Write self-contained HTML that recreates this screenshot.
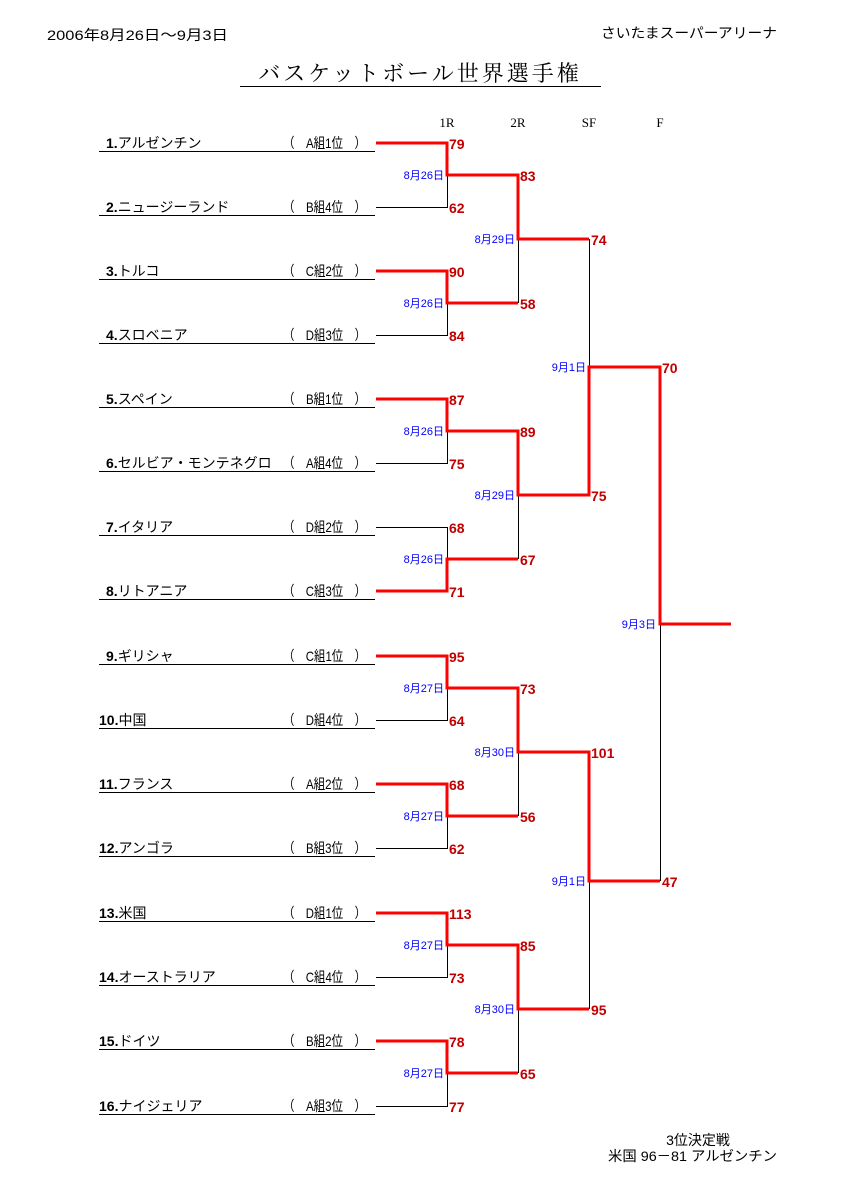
<!DOCTYPE html>
<html><head><meta charset="utf-8"><style>
html,body{margin:0;padding:0;background:#fff;}
svg{display:block;}
.t{font-family:"Liberation Sans","Noto Sans CJK JP",sans-serif;font-size:14px;fill:#000;}
.g{font-family:"Liberation Sans","Noto Sans CJK JP",sans-serif;font-size:14px;fill:#000;}
.s{font-family:"Liberation Sans",sans-serif;font-size:14px;font-weight:bold;fill:#c00000;}
.d{font-family:"Liberation Sans","Noto Sans CJK JP",sans-serif;font-size:11px;fill:#0000ff;text-anchor:end;}
.h{font-family:"Liberation Serif","Noto Serif CJK SC",serif;font-size:13px;fill:#000;}
.hh{font-family:"Liberation Sans","Noto Sans CJK JP",sans-serif;font-size:14px;fill:#000;}
.k{stroke:#000;stroke-width:1;fill:none;}
.r{stroke:#ff0000;stroke-width:3;fill:none;}
</style></head><body>
<svg width="841" height="1190" viewBox="0 0 841 1190" xmlns="http://www.w3.org/2000/svg">
<text class="hh" x="47" y="40" textLength="181" lengthAdjust="spacingAndGlyphs">2006年8月26日～9月3日</text>
<text class="hh" x="601" y="38" textLength="176" lengthAdjust="spacingAndGlyphs">さいたまスーパーアリーナ</text>
<text x="420" y="81" text-anchor="middle" style="font-family:'Noto Serif CJK SC','Liberation Serif',serif;font-size:22px;letter-spacing:3px;fill:#000">バスケットボール世界選手権</text>
<line x1="240" y1="86.5" x2="601" y2="86.5" class="k"/>
<text class="h" x="447" y="127" text-anchor="middle">1R</text>
<text class="h" x="518" y="127" text-anchor="middle">2R</text>
<text class="h" x="589" y="127" text-anchor="middle">SF</text>
<text class="h" x="660" y="127" text-anchor="middle">F</text>

<g class="k">
<line x1="99" y1="151.5" x2="375" y2="151.5"/><line x1="99" y1="215.5" x2="375" y2="215.5"/>
<line x1="99" y1="279.5" x2="375" y2="279.5"/><line x1="99" y1="343.5" x2="375" y2="343.5"/>
<line x1="99" y1="407.5" x2="375" y2="407.5"/><line x1="99" y1="471.5" x2="375" y2="471.5"/>
<line x1="99" y1="535.5" x2="375" y2="535.5"/><line x1="99" y1="599.5" x2="375" y2="599.5"/>
<line x1="99" y1="664.5" x2="375" y2="664.5"/><line x1="99" y1="728.5" x2="375" y2="728.5"/>
<line x1="99" y1="792.5" x2="375" y2="792.5"/><line x1="99" y1="856.5" x2="375" y2="856.5"/>
<line x1="99" y1="921.5" x2="375" y2="921.5"/><line x1="99" y1="985.5" x2="375" y2="985.5"/>
<line x1="99" y1="1049.5" x2="375" y2="1049.5"/><line x1="99" y1="1114.5" x2="375" y2="1114.5"/>
</g>
<g class="t">
<text x="106" y="148"><tspan font-weight="bold">1.</tspan>アルゼンチン</text>
<text x="106" y="212"><tspan font-weight="bold">2.</tspan>ニュージーランド</text>
<text x="106" y="276"><tspan font-weight="bold">3.</tspan>トルコ</text>
<text x="106" y="340"><tspan font-weight="bold">4.</tspan>スロベニア</text>
<text x="106" y="404"><tspan font-weight="bold">5.</tspan>スペイン</text>
<text x="106" y="468"><tspan font-weight="bold">6.</tspan>セルビア・モンテネグロ</text>
<text x="106" y="532"><tspan font-weight="bold">7.</tspan>イタリア</text>
<text x="106" y="596"><tspan font-weight="bold">8.</tspan>リトアニア</text>
<text x="106" y="661"><tspan font-weight="bold">9.</tspan>ギリシャ</text>
<text x="99" y="725"><tspan font-weight="bold">10.</tspan>中国</text>
<text x="99" y="789"><tspan font-weight="bold">11.</tspan>フランス</text>
<text x="99" y="853"><tspan font-weight="bold">12.</tspan>アンゴラ</text>
<text x="99" y="918"><tspan font-weight="bold">13.</tspan>米国</text>
<text x="99" y="982"><tspan font-weight="bold">14.</tspan>オーストラリア</text>
<text x="99" y="1046"><tspan font-weight="bold">15.</tspan>ドイツ</text>
<text x="99" y="1111"><tspan font-weight="bold">16.</tspan>ナイジェリア</text>
</g>
<g class="g">
<text x="283" y="148" textLength="83" lengthAdjust="spacingAndGlyphs">（　A組1位　）</text>
<text x="283" y="212" textLength="83" lengthAdjust="spacingAndGlyphs">（　B組4位　）</text>
<text x="283" y="276" textLength="83" lengthAdjust="spacingAndGlyphs">（　C組2位　）</text>
<text x="283" y="340" textLength="83" lengthAdjust="spacingAndGlyphs">（　D組3位　）</text>
<text x="283" y="404" textLength="83" lengthAdjust="spacingAndGlyphs">（　B組1位　）</text>
<text x="283" y="468" textLength="83" lengthAdjust="spacingAndGlyphs">（　A組4位　）</text>
<text x="283" y="532" textLength="83" lengthAdjust="spacingAndGlyphs">（　D組2位　）</text>
<text x="283" y="596" textLength="83" lengthAdjust="spacingAndGlyphs">（　C組3位　）</text>
<text x="283" y="661" textLength="83" lengthAdjust="spacingAndGlyphs">（　C組1位　）</text>
<text x="283" y="725" textLength="83" lengthAdjust="spacingAndGlyphs">（　D組4位　）</text>
<text x="283" y="789" textLength="83" lengthAdjust="spacingAndGlyphs">（　A組2位　）</text>
<text x="283" y="853" textLength="83" lengthAdjust="spacingAndGlyphs">（　B組3位　）</text>
<text x="283" y="918" textLength="83" lengthAdjust="spacingAndGlyphs">（　D組1位　）</text>
<text x="283" y="982" textLength="83" lengthAdjust="spacingAndGlyphs">（　C組4位　）</text>
<text x="283" y="1046" textLength="83" lengthAdjust="spacingAndGlyphs">（　B組2位　）</text>
<text x="283" y="1111" textLength="83" lengthAdjust="spacingAndGlyphs">（　A組3位　）</text>
</g>

<g class="k">
<path d="M376 207.5H447.5V175"/>
<path d="M376 335.5H447.5V303"/>
<path d="M376 463.5H447.5V431"/>
<path d="M376 527.5H447.5V559"/>
<path d="M376 720.5H447.5V688"/>
<path d="M376 848.5H447.5V816"/>
<path d="M376 977.5H447.5V945"/>
<path d="M376 1106.5H447.5V1073"/>
<path d="M518.5 239V303"/>
<path d="M518.5 495V559"/>
<path d="M518.5 752V816"/>
<path d="M518.5 1009V1073"/>
<path d="M589.5 239V367"/>
<path d="M589.5 881V1009"/>
<path d="M660.5 624V881"/>
</g>
<g class="r">
<path d="M376 143H447V175H518"/>
<path d="M376 271H447V303H518"/>
<path d="M376 399H447V431H518"/>
<path d="M376 591H447V559H518"/>
<path d="M376 656H447V688H518"/>
<path d="M376 784H447V816H518"/>
<path d="M376 913H447V945H518"/>
<path d="M376 1041H447V1073H518"/>
<path d="M447 175H518V239H589"/>
<path d="M447 303H518"/>
<path d="M447 431H518V495H589"/>
<path d="M447 559H518"/>
<path d="M447 688H518V752H589"/>
<path d="M447 816H518"/>
<path d="M447 945H518V1009H589"/>
<path d="M447 1073H518"/>
<path d="M518 239H589"/>
<path d="M518 495H589V367H660"/>
<path d="M518 752H589V881H660"/>
<path d="M518 1009H589"/>
<path d="M589 367H660V624H731"/>
<path d="M589 881H660"/>
</g>

<g class="s">
<text x="449" y="149">79</text><text x="449" y="213">62</text>
<text x="449" y="277">90</text><text x="449" y="341">84</text>
<text x="449" y="405">87</text><text x="449" y="469">75</text>
<text x="449" y="533">68</text><text x="449" y="597">71</text>
<text x="449" y="662">95</text><text x="449" y="726">64</text>
<text x="449" y="790">68</text><text x="449" y="854">62</text>
<text x="449" y="919">113</text><text x="449" y="983">73</text>
<text x="449" y="1047">78</text><text x="449" y="1112">77</text>
<text x="520" y="181">83</text><text x="520" y="309">58</text>
<text x="520" y="437">89</text><text x="520" y="565">67</text>
<text x="520" y="694">73</text><text x="520" y="822">56</text>
<text x="520" y="951">85</text><text x="520" y="1079">65</text>
<text x="591" y="245">74</text><text x="591" y="501">75</text>
<text x="591" y="758">101</text><text x="591" y="1015">95</text>
<text x="662" y="373">70</text><text x="662" y="887">47</text>
</g>

<g class="d">
<text x="444" y="179">8月26日</text><text x="444" y="307">8月26日</text>
<text x="444" y="435">8月26日</text><text x="444" y="563">8月26日</text>
<text x="444" y="692">8月27日</text><text x="444" y="820">8月27日</text>
<text x="444" y="949">8月27日</text><text x="444" y="1077">8月27日</text>
<text x="515" y="243">8月29日</text><text x="515" y="499">8月29日</text>
<text x="515" y="756">8月30日</text><text x="515" y="1013">8月30日</text>
<text x="586" y="371">9月1日</text><text x="586" y="885">9月1日</text>
<text x="656" y="628">9月3日</text>
</g>

<text class="hh" x="698" y="1145" text-anchor="middle">3位決定戦</text>
<text class="hh" x="608" y="1161" textLength="169" lengthAdjust="spacingAndGlyphs">米国 96－81 アルゼンチン</text>
</svg>
</body></html>
